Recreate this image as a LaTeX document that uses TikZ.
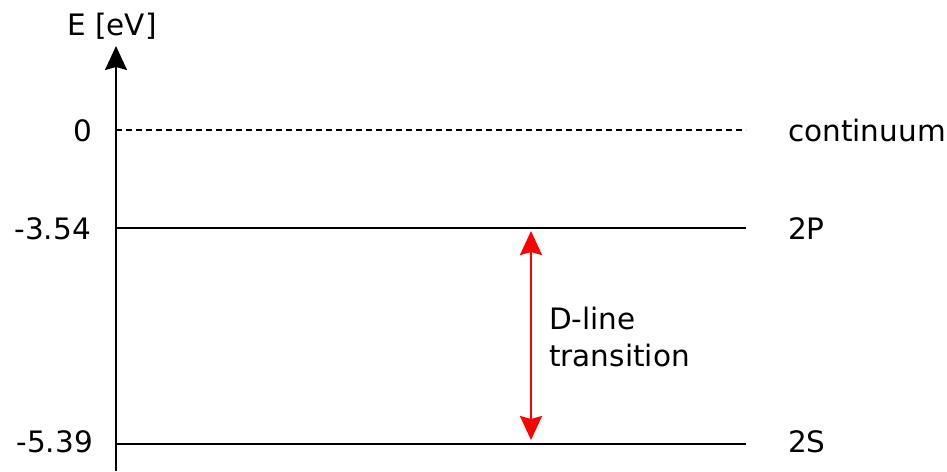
\documentclass[tikz,border=0pt]{standalone}
\usepackage{fontspec}
\setmainfont{DejaVu Sans}
\usetikzlibrary{arrows.meta}
\begin{document}
\begin{tikzpicture}[x=1pt,y=-1pt,
  lbl/.style={font=\fontsize{29.5}{36}\selectfont, inner sep=0pt},
  level/.style={line width=1.8pt, black},
  axisline/.style={line width=2pt, -{Stealth[length=24pt,width=22pt,inset=3pt]}},
  trans/.style={line width=2pt, red, {Stealth[length=24pt,width=22pt,inset=3pt]}-{Stealth[length=24pt,width=22pt,inset=3pt]}}]
\useasboundingbox (0,0) rectangle (947,471);
\coordinate (ab) at (116,471);
\coordinate (at) at (116,46);
\draw[axisline] (ab) -- (at);
\node[lbl, anchor=base] (elab) at (112,35) {E [eV]};
% levels
\coordinate (c0) at (116,130); \coordinate (c1) at (746,130);
\coordinate (p0) at (116,228); \coordinate (p1) at (746,228);
\coordinate (s0) at (116,444); \coordinate (s1) at (746,444);
\draw[level, line width=1.4pt, dash pattern=on 6pt off 4pt] (c0) -- (c1);
\draw[level] (p0) -- (p1);
\draw[level] (s0) -- (s1);
\node[lbl, anchor=base east] (v0) at (92,141) {0};
\node[lbl, anchor=base east] (v1) at (91,239) {-3.54};
\node[lbl, anchor=base east] (v2) at (93,452) {-5.39};
\node[lbl, anchor=base west] (n0) at (788,141) {continuum};
\node[lbl, anchor=base west] (n1) at (788,239) {2P};
\node[lbl, anchor=base west] (n2) at (788,452) {2S};
\coordinate (tt) at (531,231);
\coordinate (tb) at (531,440);
\draw[trans] (tt) -- (tb);
\node[lbl, anchor=base west] (dl) at (549,329) {D-line};
\node[lbl, anchor=base west] (tr) at (549,366) {transition};
\end{tikzpicture}
\end{document}
